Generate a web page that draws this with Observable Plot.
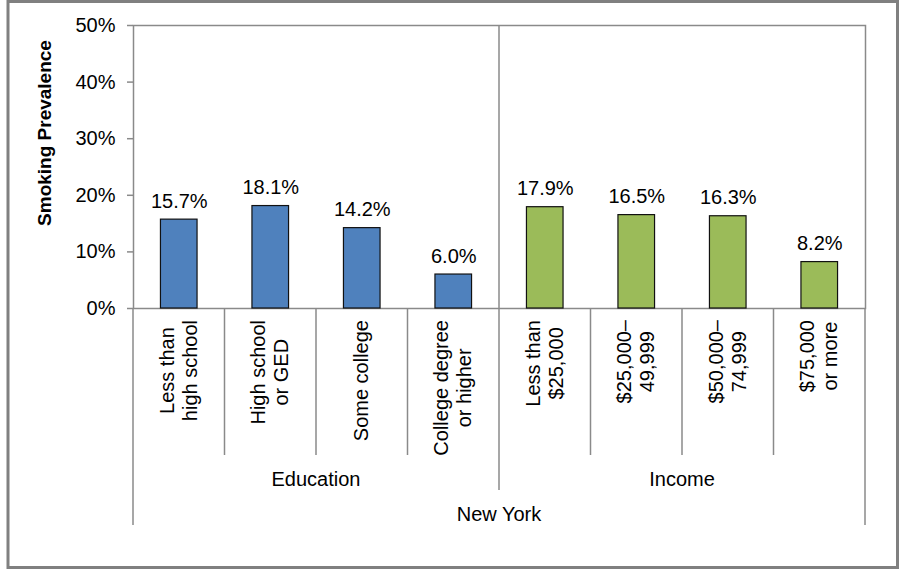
<!DOCTYPE html>
<html><head><meta charset="utf-8">
<script src="https://cdn.jsdelivr.net/npm/d3@7"></script>
<script src="https://cdn.jsdelivr.net/npm/@observablehq/plot@0.6"></script>
<style>html,body{margin:0;padding:0;background:#fff} svg{display:block}</style>
</head><body><div id="chart"></div>
<script>
const groups = ["Education","Education","Education","Education","Income","Income","Income","Income"];
const categories = ["Less than\nhigh school","High school\nor GED","Some college","College degree\nor higher","Less than\n$25,000","$25,000–\n49,999","$50,000–\n74,999","$75,000\nor more"];
const values = [15.7,18.1,14.2,6.0,17.9,16.5,16.3,8.2];
const groupNames = ["Education","Income"];
const groupColors = ["#4F81BD","#9BBB59"];
const region = "New York";
const yTicks = [0,10,20,30,40,50];
const yTitle = "Smoking Prevalence";

const data = categories.map((c,i)=>({category:c, group:groups[i], value:values[i]}));
const font = "Arial, 'Liberation Sans', sans-serif";
const fs = 20;
const lineColor = "#8a8a8a";

const plot = Plot.plot({
  width:900, height:569, marginTop:25, marginBottom:261, marginLeft:133, marginRight:35,
  style:{fontFamily:font, fontSize:fs+"px", background:"white", color:"#000", overflow:"visible"},
  x:{type:"band", domain:categories, paddingInner:0.6, paddingOuter:0.3, round:false, axis:null},
  y:{domain:[0,50], axis:null},
  color:{domain:groupNames, range:groupColors},
  marks:[
    Plot.frame({stroke:lineColor, strokeWidth:1.5}),
    Plot.barY(data,{x:"category", y:"value", fill:"group", stroke:"#111", strokeWidth:1.2}),
    Plot.axisY({ticks:yTicks, tickSize:6, tickPadding:12, tickFormat:d=>d+"%", stroke:lineColor, strokeWidth:1.5, fill:"#000", fontSize:fs, label:null}),
    Plot.text(data,{x:"category", y:"value", text:d=>d.value.toFixed(1)+"%", lineAnchor:"bottom", dy:-12, fontSize:fs, fill:"#000"})
  ]
});
document.getElementById("chart").append(plot);

const svg = d3.select(plot);
const xs = plot.scale("x"), ys = plot.scale("y");
const bw = xs.bandwidth;
const centers = categories.map(c => xs.apply(c) + bw/2);
const step = centers[1] - centers[0];
const yZero = ys.apply(0), yTop = ys.apply(50);
const bounds = [centers[0]-step/2, ...centers.map(c=>c+step/2)];

const g = svg.append("g").attr("font-family", font).attr("font-size", fs);
// separators
bounds.forEach((bx,i)=>{
  let y1 = yZero, y2;
  if (i===0 || i===bounds.length-1) y2 = yZero+217;
  else if (groups[i] !== groups[i-1]) { y1 = yTop; y2 = yZero+182; }
  else y2 = yZero+147;
  g.append("line").attr("x1",bx).attr("x2",bx).attr("y1",y1).attr("y2",y2)
    .attr("stroke",lineColor).attr("stroke-width",1.5);
});
// category labels (rotated, lines centred, block top-anchored)
const lh = 23;
categories.forEach((c,i)=>{
  const lines = c.split("\n");
  const tg = g.append("g").attr("transform",`translate(${centers[i]},${yZero+12}) rotate(-90)`);
  const texts = lines.map((ln,j)=> tg.append("text").text(ln)
     .attr("y", (j-(lines.length-1)/2)*lh + 0.32*fs).attr("fill","#000"));
  const L = d3.max(texts, t=>t.node().getComputedTextLength());
  texts.forEach(t=>t.attr("text-anchor","middle").attr("x", -L/2));
});
// group labels
groupNames.forEach(gn=>{
  const idx = groups.map((v,i)=>v===gn?i:-1).filter(i=>i>=0);
  const cx = (bounds[idx[0]] + bounds[idx[idx.length-1]+1])/2;
  g.append("text").text(gn).attr("x",cx).attr("y",yZero+178).attr("text-anchor","middle").attr("fill","#000");
});
g.append("text").text(region).attr("x",(bounds[0]+bounds[bounds.length-1])/2).attr("y",yZero+213)
  .attr("text-anchor","middle").attr("fill","#000");
// y title
g.append("text").text(yTitle).attr("transform","translate(51,133) rotate(-90)")
  .attr("text-anchor","middle").attr("font-weight","bold").attr("font-size",19).attr("fill","#000");
// chart border
svg.append("rect").attr("x",8).attr("y",1.5).attr("width",889.5).attr("height",566)
  .attr("fill","none").attr("stroke","#808080").attr("stroke-width",3);
</script></body></html>
